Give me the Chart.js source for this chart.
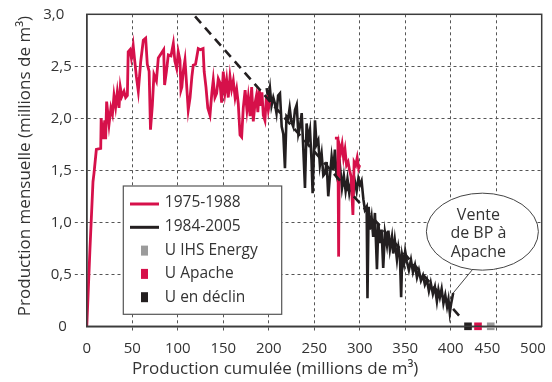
<!DOCTYPE html>
<html>
<head>
<meta charset="utf-8">
<script src="https://cdn.jsdelivr.net/npm/chart.js@4/dist/chart.umd.min.js"></script>
<style>
  html, body { margin: 0; padding: 0; background: #fff; }
  #wrap { width: 552px; height: 382px; position: relative; }
</style>
</head>
<body>
<div id="wrap"><canvas id="chart" width="552" height="382"></canvas></div>
<script>
// Monthly production against cumulative production (millions of m³)

// 1975-1988, first run
const earlyCum = [0, 3.5, 6.8, 7.9, 10.5, 15.3, 15.8, 17.8, 19.7, 20.7, 21.8, 24.4, 26.5, 28.2, 29.9, 31.7, 33.5, 35.4, 36.8, 38.5,
  40.9, 42.7, 44.6, 45.5, 47.5, 49, 51, 52.6, 54.5, 56.6, 59.2, 62.1, 64.7, 66.5, 68.5, 70, 72, 73.8, 76.5, 78.6,
  82.3, 84.5, 85.5, 87.5, 89.6, 92.5, 95.1, 96.8, 98.8, 100.5, 102.4, 103.5, 104.5, 106, 107.9, 109.5, 111.5, 113.5, 115.5, 117,
  119.5, 122.5, 125, 127.8, 129, 131, 133, 135.4, 137.5, 139, 140.8, 142.7, 144.5, 146.4, 148.2, 150, 151.9, 153.7, 155.5, 157.4,
  159.2, 161, 163, 164.7, 166.5, 168.4, 170.2, 172, 174, 176, 177.5, 179.5, 181.2, 183, 185, 186.5, 188, 189.6, 191.2, 192.5,
  194, 195.8, 197.5, 199.5, 201];
const earlyProd = [0, 0.75, 1.39, 1.47, 1.70, 1.71, 2.00, 1.80, 1.98, 1.80, 2.16, 1.94, 2.10, 2.04, 2.22, 2.11, 2.25, 2.10, 2.30, 2.21,
  2.26, 2.20, 2.22, 2.64, 2.66, 2.58, 2.70, 2.56, 2.40, 2.26, 2.54, 2.75, 2.77, 2.52, 2.45, 1.89, 2.12, 2.42, 2.36, 2.58,
  2.63, 2.66, 2.32, 2.45, 2.61, 2.60, 2.72, 2.55, 2.48, 2.64, 2.56, 2.27, 2.30, 2.45, 2.56, 2.35, 2.08, 2.20, 2.40, 2.51,
  2.52, 2.67, 2.66, 2.67, 2.45, 2.30, 2.10, 2.03, 2.25, 2.37, 2.20, 2.24, 2.38, 2.34, 2.15, 2.45, 2.25, 2.37, 2.20, 2.40,
  2.28, 2.36, 2.20, 2.28, 2.14, 1.84, 1.82, 2.10, 2.27, 2.08, 2.20, 2.02, 2.30, 1.97, 2.15, 2.22, 2.06, 2.27, 2.12, 2.25,
  2.03, 1.98, 2.22, 2.08, 2.16];

// 1975-1988, second run
const lateRedCum = [272.7, 276.0, 276.8, 277.6, 279.2, 280.6, 282.2, 283.8, 285.5, 287.2, 288.8, 290.5, 292.5, 293.8, 295.6, 297.2, 298.8, 300];
const lateRedProd = [1.81, 1.81, 0.67, 1.74, 1.68, 1.75, 1.62, 1.70, 1.55, 1.58, 1.50, 1.44, 1.07, 1.58, 1.55, 1.62, 1.52, 1.55];

// 1984-2005
const declineCum = [197.7, 199.5, 201.3, 203, 205, 206.8, 208.5, 210.3, 212.3, 214.2, 216, 217.8, 219.5, 221.4, 223, 224.8, 226.9, 228.8, 230.7, 232.5,
  234.3, 236.2, 238, 239.8, 241.6, 243.5, 245.3, 247, 248.2, 250.8, 252.5, 254.4, 256.2, 258.1, 260, 261.8, 263.6, 265.4, 267.3, 269.1,
  270.9, 272.7, 274.5, 276.5, 278.5, 280.5, 282.5, 284.5, 286.5, 288.5, 290.5, 292.5, 294.5, 296.6, 298.5, 300.2, 302, 304, 305.7, 307.6,
  308.5, 309.8, 311, 313, 314.8, 316.7, 318.9, 320.5, 322.2, 324, 325.8, 327.7, 329.9, 331.5, 333.2, 335.4, 336.8, 338.5, 340.9, 342.5,
  344.2, 345.5, 346.7, 348.6, 350, 351.9, 354, 356.3, 358.5, 360.7, 362.9, 365, 367.3, 369.5, 371.6, 373.8, 376, 378, 380.4, 382.6,
  384.8, 386.5, 388.1, 390, 392, 394, 396, 397.5, 399, 400.5, 402.7];
const declineProd = [2.29, 2.18, 2.29, 2.12, 2.20, 2.14, 2.05, 2.22, 2.24, 1.92, 1.85, 1.52, 2.02, 2.00, 2.10, 1.97, 1.92, 2.08, 2.13, 1.85,
  1.92, 2.05, 1.70, 1.33, 1.95, 1.80, 1.89, 1.60, 1.28, 1.98, 1.75, 1.79, 1.55, 1.66, 1.45, 1.47, 1.58, 1.25, 1.45, 1.63,
  1.50, 1.70, 1.45, 1.38, 1.52, 1.33, 1.45, 1.30, 1.42, 1.28, 1.38, 1.25, 1.40, 1.30, 1.42, 1.36, 1.40, 1.22, 1.12, 1.15,
  0.27, 1.15, 0.93, 1.05, 0.86, 1.09, 0.55, 0.99, 0.80, 0.93, 0.56, 0.90, 0.78, 0.92, 0.74, 0.86, 0.70, 0.83, 0.64, 0.76,
  0.67, 0.28, 0.68, 0.60, 0.72, 0.62, 0.54, 0.64, 0.52, 0.59, 0.47, 0.54, 0.44, 0.49, 0.40, 0.45, 0.34, 0.42, 0.31, 0.38,
  0.24, 0.35, 0.28, 0.36, 0.22, 0.30, 0.19, 0.26, 0.13, 0.22, 0.32];

// Linear decline trend
const trendCum = [119, 411];
const trendProd = [2.98, 0.085];

// Ultimate recovery estimates
const ultimateCum = [419, 430, 444];
const ultimateProd = [0, 0, 0];
const ultimateColors = ['#231f20', '#d6104a', '#9b9b9b'];

// Axis ticks
const xTickValues = [0, 50, 100, 150, 200, 250, 300, 350, 400, 450, 500];
const xTickLabels = ['0', '50', '100', '150', '200', '250', '300', '350', '400', '450', '500'];
const yTickValues = [0, 0.5, 1, 1.5, 2, 2.5, 3];
const yTickLabels = ['0', '0,5', '1,0', '1,5', '2,0', '2,5', '3,0'];

// Text
const xTitle = 'Production cumulée (millions de m³)';
const yTitle = 'Production mensuelle (millions de m³)';
const legendLabels = ['1975-1988', '1984-2005', 'U IHS Energy', 'U Apache', 'U en déclin'];
const calloutLines = ['Vente', 'de BP à', 'Apache'];
const calloutAt = [434.8, 0.91];

const RED = '#d6104a';
const BLACK = '#231f20';
const GREY = '#9b9b9b';
const TEXT = '#333';
const FONT = "'Open Sans', 'Noto Sans', sans-serif";

const pts = (xs, ys) => xs.map((v, i) => ({ x: v, y: ys[i] }));

const overlay = {
  id: 'overlay',
  afterDatasetsDraw(chart) {
    const { ctx, chartArea: a, scales: { x, y } } = chart;
    ctx.save();
    // plot frame
    ctx.strokeStyle = '#3c3c3c';
    ctx.lineWidth = 1.5;
    ctx.strokeRect(a.left, a.top, a.right - a.left, a.bottom - a.top);

    // legend box
    const lx = a.left + 36.5, ly = a.top + 171.7, lw = 158.4, lh = 128.3;
    ctx.fillStyle = '#fff';
    ctx.fillRect(lx, ly, lw, lh);
    ctx.strokeStyle = '#555';
    ctx.lineWidth = 1.2;
    ctx.strokeRect(lx, ly, lw, lh);
    const markers = [
      { kind: 'line', color: RED }, { kind: 'line', color: BLACK },
      { kind: 'box', color: GREY }, { kind: 'box', color: RED }, { kind: 'box', color: BLACK }
    ];
    ctx.font = '15.5px ' + FONT;
    ctx.textAlign = 'left';
    ctx.textBaseline = 'alphabetic';
    legendLabels.forEach((label, i) => {
      const cy = ly + 18 + 23.3 * i;
      const m = markers[i];
      if (m.kind === 'line') {
        ctx.strokeStyle = m.color;
        ctx.lineWidth = 3;
        ctx.beginPath();
        ctx.moveTo(lx + 6.7, cy);
        ctx.lineTo(lx + 35.7, cy);
        ctx.stroke();
      } else {
        ctx.fillStyle = m.color;
        ctx.fillRect(lx + 17.7, cy - 5, 7, 10);
      }
      ctx.fillStyle = TEXT;
      ctx.fillText(label, lx + 41.5, ly + 20.7 + 23.9 * i);
    });

    // callout
    const cx = x.getPixelForValue(calloutAt[0]);
    const cy = y.getPixelForValue(calloutAt[1]);
    const rx = 56, ry = 38.5;
    const n = declineCum.length - 1;
    const tx = x.getPixelForValue(declineCum[n]);
    const ty = y.getPixelForValue(declineProd[n]);
    ctx.strokeStyle = '#444';
    ctx.lineWidth = 1;
    ctx.beginPath();
    ctx.moveTo(cx - 10, cy + ry - 0.5);
    ctx.lineTo(tx, ty);
    ctx.stroke();
    ctx.beginPath();
    ctx.ellipse(cx, cy, rx, ry, 0, 0, Math.PI * 2);
    ctx.fillStyle = '#fff';
    ctx.fill();
    ctx.stroke();
    ctx.fillStyle = TEXT;
    ctx.textAlign = 'center';
    ctx.font = '16px ' + FONT;
    calloutLines.forEach((t, i) => ctx.fillText(t, cx - 4, cy - 11.7 + 18.4 * i));
    ctx.restore();
  }
};

const hideEnds = (vals, color) => (c) => {
  const v = c.tick ? c.tick.value : null;
  return (v === vals[0] || v === vals[vals.length - 1]) ? 'rgba(0,0,0,0)' : color;
};

new Chart(document.getElementById('chart'), {
  type: 'scatter',
  data: {
    datasets: [
      { data: pts(trendCum, trendProd), showLine: true, borderColor: BLACK, borderWidth: 2.6, borderDash: [9, 6], pointRadius: 0 },
      { data: pts(earlyCum, earlyProd), showLine: true, borderColor: RED, borderWidth: 2.8, pointRadius: 0 },
      { data: pts(lateRedCum, lateRedProd), showLine: true, borderColor: RED, borderWidth: 2.8, pointRadius: 0 },
      { data: pts(declineCum, declineProd), showLine: true, borderColor: BLACK, borderWidth: 2.6, pointRadius: 0 },
      { data: pts(ultimateCum, ultimateProd), showLine: false, pointStyle: 'rect', pointRadius: 5.4, borderWidth: 0,
        pointBackgroundColor: ultimateColors, pointBorderColor: ultimateColors, clip: false }
    ]
  },
  options: {
    responsive: false,
    animation: false,
    events: [],
    layout: { padding: { left: 0, right: 10.3, top: 14.3, bottom: 0 } },
    plugins: {
      legend: { display: false },
      tooltip: { enabled: false },
      title: {
        display: true, position: 'bottom', text: '\u2002' + xTitle, color: TEXT,
        font: { family: FONT, size: 17, weight: 'normal' }, padding: { top: 2.8, bottom: 2.5 }
      }
    },
    scales: {
      x: {
        type: 'linear', min: 0, max: 500,
        afterBuildTicks: (s) => { s.ticks = xTickValues.map(v => ({ value: v })); },
        afterFit: (s) => { s.height = 30; s.paddingLeft = 0; s.paddingRight = 0; },
        ticks: {
          autoSkip: false, maxRotation: 0, padding: 6, color: TEXT,
          font: { family: FONT, size: 15 },
          callback: (v) => {
            const lbl = xTickLabels[xTickValues.indexOf(v)];
            return v >= 450 ? lbl + '\u2003\u2009' : lbl;
          }
        },
        grid: {
          color: '#555', lineWidth: 1, tickLength: 7, tickBorderDash: [3, 3],
          tickColor: hideEnds(xTickValues, '#555')
        },
        border: { color: '#3c3c3c', width: 1.5, dash: [3, 3] }
      },
      y: {
        min: 0, max: 3,
        afterBuildTicks: (s) => { s.ticks = yTickValues.map(v => ({ value: v })); },
        afterFit: (s) => { s.width = 86.8; },
        ticks: {
          padding: 3, color: TEXT,
          font: { family: FONT, size: 15 },
          callback: (v) => {
            const lbl = yTickLabels[yTickValues.indexOf(v)];
            if (v === 3) return lbl + '\u2002';
            if (v === 0) return lbl + '\u2004';
            return lbl;
          }
        },
        grid: {
          color: '#555', lineWidth: 1, tickLength: 12, tickBorderDash: [3, 3],
          tickColor: hideEnds(yTickValues, '#555')
        },
        border: { color: '#3c3c3c', width: 1.5, dash: [3, 3] },
        title: {
          display: true, text: '\u2002' + yTitle, color: TEXT,
          font: { family: FONT, size: 17 }, padding: { top: 15, bottom: 0 }
        }
      }
    }
  },
  plugins: [overlay]
});
</script>
</body>
</html>
